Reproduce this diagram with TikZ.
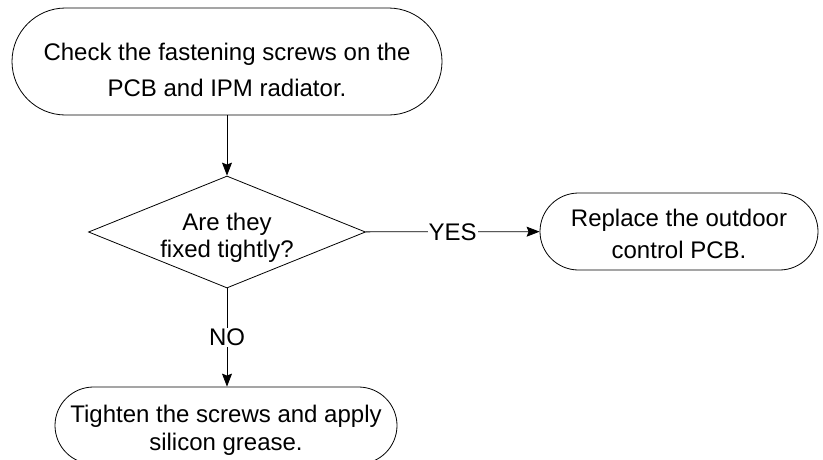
\documentclass[tikz,border=0pt]{standalone}
\usepackage{fontspec}
\setmainfont{Liberation Sans}
\usetikzlibrary{shapes.geometric, shapes.misc, arrows.meta}
\tikzset{
flow/.style={-{Stealth[length=13pt, width=10pt, inset=2pt]}}, % filled arrow heads
terminal/.style={rounded rectangle, draw, inner sep=0pt}, % start and end boxes
decision/.style={diamond, draw, inner sep=0pt, shape aspect=2.5}, % the question box
answer/.style={fill=white, inner sep=1pt, font=\fontsize{24}{30}\selectfont}, % labels sitting on a connector
}
\begin{document}
\begin{tikzpicture}[x=1pt, y=-1pt, line width=0.8pt]
    \useasboundingbox (0,0) rectangle (823,459);
    \node[terminal, minimum width=430pt, minimum height=107pt,
          label={[align=center, yshift=-8pt, font=\fontsize{24}{36}\selectfont]center:Check the fastening screws on the\\PCB and IPM radiator.}]
          (check) at (227,61.5) {};
    \node[decision, minimum width=277pt, minimum height=112pt,
          label={[align=center, yshift=-6pt, font=\fontsize{24}{27}\selectfont]center:Are they\\fixed tightly?}]
          (fixed) at (227,232) {};
    \node[terminal, minimum width=278pt, minimum height=77pt,
          label={[align=center, yshift=-2.5pt, font=\fontsize{24}{32}\selectfont]center:Replace the outdoor\\control PCB.}]
          (replace) at (679,231.5) {};
    \node[terminal, minimum width=342pt, minimum height=77pt,
          label={[align=center, yshift=-5pt, font=\fontsize{24}{27.5}\selectfont]center:Tighten the screws and apply\\silicon grease.}]
          (tighten) at (226,425.5) {};
    \draw[flow] (check) -- (fixed);
    \draw[flow] (fixed) -- node[answer] {YES} (replace);
    \draw[flow] (fixed) -- node[answer] {NO} (tighten.north -| fixed.south);
\end{tikzpicture}
\end{document}
